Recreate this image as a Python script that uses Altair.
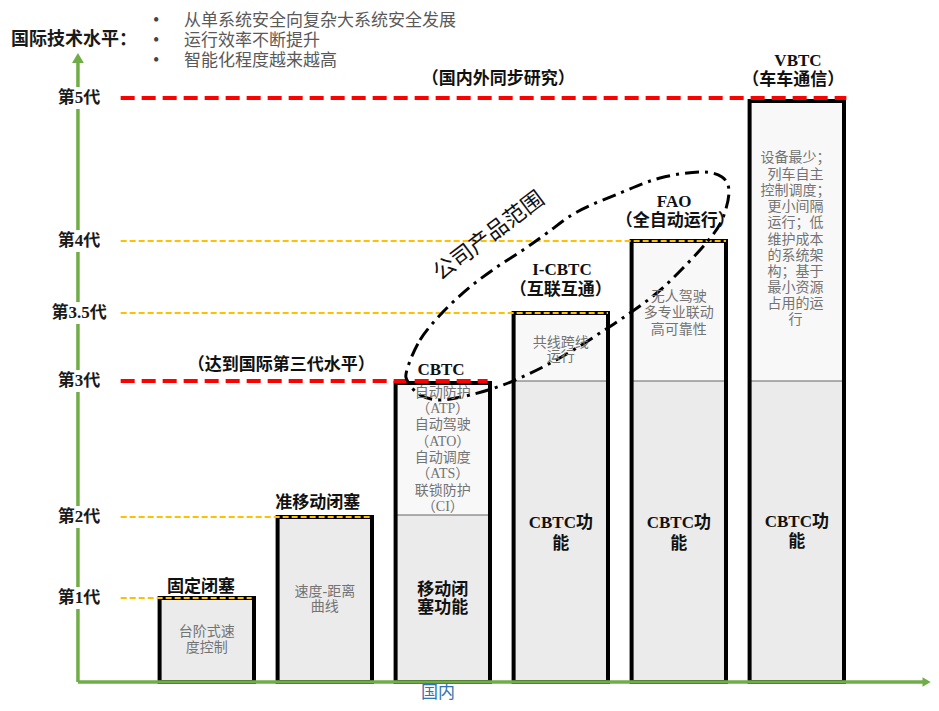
import altair as alt
import pandas as pd

FONT = "Liberation Serif, Noto Sans CJK SC"
GREEN = "#70AD47"
RED = "#FF0000"
ORANGE = "#FFC000"

# ---------------- data ----------------
gen_labels = ["第1代", "第2代", "第3代", "第3.5代", "第4代", "第5代"]
gen_level = [0.84, 1.65, 3.01, 3.69, 4.41, 5.84]
gen_line_end = [1.38, 2.40, 3.38, 4.40, 5.40, 6.42]
gen_major = [False, False, True, False, False, True]

bar_names = ["固定闭塞", "准移动闭塞", "CBTC", "I-CBTC", "FAO", "VBTC"]
bar_pos = [1, 2, 3, 4, 5, 6]
bar_top = [0.84, 1.65, 2.99, 3.69, 4.41, 5.81]
bar_split = [0.84, 1.65, 1.67, 3.01, 3.01, 3.01]
BAR_HALF = 0.4

head_text = ["固定闭塞", "准移动闭塞", "CBTC", "I-CBTC", "FAO", "VBTC"]
head_x = [0.95, 1.94, 2.985, 4.01, 4.96, 6.01]
head_y = [0.95, 1.79, 3.12, 4.12, 4.80, 6.21]

note_text = ["（互联互通）", "（全自动运行）", "（车车通信）", "（国内外同步研究）", "（达到国际第三代水平）"]
note_x = [4.0, 4.97, 5.97, 3.47, 1.63]
note_y = [3.92, 4.61, 6.02, 6.03, 3.17]

desc_text = ["台阶式速", "度控制",
             "速度-距离", "曲线",
             "自动防护", "（ATP）", "自动驾驶", "（ATO）", "自动调度", "（ATS）", "联锁防护", "（CI）",
             "共线跨线", "运行",
             "无人驾驶", "多专业联动", "高可靠性",
             "设备最少；", "列车自主", "控制调度；", "更小间隔", "运行；低", "维护成本",
             "的系统架", "构；基于", "最小资源", "占用的运", "行"]
desc_x = [1, 1,
          2, 2,
          3, 3, 3, 3, 3, 3, 3, 3,
          4, 4,
          5, 5, 5,
          5.99, 5.99, 5.99, 5.99, 5.99, 5.99, 5.99, 5.99, 5.99, 5.99, 5.99]
desc_y = [0.50, 0.34,
          0.90, 0.75,
          2.89, 2.73, 2.57, 2.40, 2.24, 2.08, 1.91, 1.75,
          3.39, 3.25,
          3.85, 3.69, 3.52,
          5.24, 5.07, 4.91, 4.75, 4.59, 4.42, 4.26, 4.10, 3.94, 3.78, 3.62]

func_text = ["移动闭", "塞功能", "CBTC功", "能", "CBTC功", "能", "CBTC功", "能"]
func_x = [3, 3, 4, 4, 5, 5, 6, 6]
func_y = [0.92, 0.74, 1.59, 1.38, 1.59, 1.38, 1.60, 1.40]

intl_title = "国际技术水平："
intl_points = ["从单系统安全向复杂大系统安全发展", "运行效率不断提升", "智能化程度越来越高"]
intl_y = [6.61, 6.41, 6.21]

x_axis_label = "国内"
scope_label = "公司产品范围"

loop_x = [2.696, 2.807, 3.001, 3.231, 3.459, 3.680, 3.883, 4.137, 4.502, 4.841,
          5.180, 5.366, 5.425, 5.366, 5.239, 5.036, 4.824, 4.586, 4.332, 4.078,
          3.798, 3.510, 3.231, 2.976, 2.807, 2.705]
loop_y = [3.12, 3.42, 3.70, 3.95, 4.15, 4.32, 4.49, 4.70, 4.89, 5.04,
          5.10, 5.05, 4.90, 4.62, 4.40, 4.14, 3.90, 3.69, 3.49, 3.30,
          3.12, 2.97, 2.87, 2.82, 2.87, 3.00]

AXIS_X = -0.092
X_END = 7.08
Y_END = 6.2

# ---------------- scales ----------------
XS = alt.Scale(domain=[-0.1, 7.1373], nice=False, zero=False)
YS = alt.Scale(domain=[0, 6.3], nice=False, zero=False)


def X(f):
    return alt.X(f"{f}:Q", scale=XS, axis=None)


def Y(f):
    return alt.Y(f"{f}:Q", scale=YS, axis=None)


def text_layer(texts, xs, ys, size, color, weight="normal", align="center", angle=0):
    df = pd.DataFrame({"t": texts, "x": xs, "y": ys})
    kw = dict(font=FONT, fontSize=size, color=color, fontWeight=weight,
              align=align, baseline="middle")
    if angle:
        kw["angle"] = angle
    return alt.Chart(df).mark_text(**kw).encode(x=X("x"), y=Y("y"), text="t:N")


# ---------------- bars ----------------
bars = pd.DataFrame({
    "name": bar_names,
    "x1": [p - BAR_HALF for p in bar_pos],
    "x2": [p + BAR_HALF for p in bar_pos],
    "top": bar_top,
    "split": bar_split,
    "zero": [0] * len(bar_pos),
})
upper = bars[bars["top"] > bars["split"] + 0.01]

lower_fill = alt.Chart(bars).mark_rect(fill="#ebebeb").encode(
    x=X("x1"), x2=alt.X2("x2"), y=Y("zero"), y2=alt.Y2("split"))
upper_fill = alt.Chart(upper).mark_rect(fill="#f8f8f8").encode(
    x=X("x1"), x2=alt.X2("x2"), y=Y("split"), y2=alt.Y2("top"))
divider = alt.Chart(upper).mark_rule(color="#666666", strokeWidth=1).encode(
    x=X("x1"), x2=alt.X2("x2"), y=Y("split"))
outline = alt.Chart(bars).mark_rect(fill="transparent", stroke="black", strokeWidth=4).encode(
    x=X("x1"), x2=alt.X2("x2"), y=Y("zero"), y2=alt.Y2("top"))

# ---------------- level lines ----------------
gen = pd.DataFrame({
    "label": gen_labels,
    "y": gen_level,
    "x1": [0.27] * len(gen_labels),
    "x2": gen_line_end,
    "major": gen_major,
    "lx": [-0.083] * len(gen_labels),
    "bx1": [-0.15] * len(gen_labels),
    "bx2": [-0.035] * len(gen_labels),
    "by1": [v - 0.11 for v in gen_level],
    "by2": [v + 0.11 for v in gen_level],
})
minor_lines = alt.Chart(gen[~gen["major"]]).mark_rule(
    color=ORANGE, strokeWidth=1.8, strokeDash=[6, 3]).encode(
    x=X("x1"), x2=alt.X2("x2"), y=Y("y"))
major_lines = alt.Chart(gen[gen["major"]]).mark_rule(
    color=RED, strokeWidth=4, strokeDash=[14, 7]).encode(
    x=X("x1"), x2=alt.X2("x2"), y=Y("y"))

# ---------------- axes ----------------
vaxis = alt.Chart(pd.DataFrame({"x": [AXIS_X], "y1": [0], "y2": [Y_END]})).mark_rule(
    color=GREEN, strokeWidth=3.5).encode(x=X("x"), y=Y("y1"), y2=alt.Y2("y2"))
haxis = alt.Chart(pd.DataFrame({"x1": [AXIS_X], "x2": [X_END], "y": [0]})).mark_rule(
    color=GREEN, strokeWidth=3.5).encode(x=X("x1"), x2=alt.X2("x2"), y=Y("y"))
up_arrow = alt.Chart(pd.DataFrame({"x": [AXIS_X], "y": [6.24]})).mark_point(
    shape="triangle-up", filled=True, size=140, color=GREEN, opacity=1).encode(
    x=X("x"), y=Y("y"))
right_arrow = alt.Chart(pd.DataFrame({"x": [7.10], "y": [0]})).mark_point(
    shape="triangle-right", filled=True, size=90, color=GREEN, opacity=1).encode(
    x=X("x"), y=Y("y"))

label_bg = alt.Chart(gen).mark_rect(fill="white").encode(
    x=X("bx1"), x2=alt.X2("bx2"), y=Y("by1"), y2=alt.Y2("by2"))
gen_text = alt.Chart(gen).mark_text(
    font=FONT, fontSize=17, fontWeight="bold", color="#1a1a1a",
    align="center", baseline="middle").encode(x=X("lx"), y=Y("y"), text="label:N")

# ---------------- loop (company product scope) ----------------
loop = pd.DataFrame({"x": loop_x, "y": loop_y, "i": list(range(len(loop_x)))})
loop_line = alt.Chart(loop).mark_line(
    color="black", strokeWidth=3, strokeDash=[14, 6, 3, 6],
    interpolate="cardinal-closed").encode(x=X("x"), y=Y("y"), order="i:Q")

# ---------------- texts ----------------
texts = [
    text_layer(head_text, head_x, head_y, 17, "#111111", weight="bold"),
    text_layer(note_text, note_x, note_y, 17, "#111111", weight="bold"),
    text_layer(desc_text, desc_x, desc_y, 14, "#737373"),
    text_layer(func_text, func_x, func_y, 17, "#111111", weight="bold"),
    text_layer([intl_title], [-0.659], [6.42], 18, "#1a1a1a", weight="bold", align="left"),
    text_layer(["•"] * 3, [0.570] * 3, intl_y, 18, "#444444"),
    text_layer(intl_points, [0.807] * 3, intl_y, 17, "#595959", align="left"),
    text_layer([x_axis_label], [2.96], [-0.105], 17, "#2F75B5"),
    text_layer([scope_label], [3.39], [4.46], 22, "#111111", angle=323),
]

chart = alt.layer(
    lower_fill, upper_fill, divider, outline,
    minor_lines, major_lines,
    vaxis, haxis, up_arrow, right_arrow,
    label_bg, gen_text,
    loop_line,
    *texts,
).properties(
    width=854, height=630,
    padding={"left": 69, "top": 44, "right": 0, "bottom": 21},
    autosize=alt.AutoSizeParams(type="none"),
    background="white",
).configure_view(stroke="transparent")

chart.save("out.html", embed_options={"renderer": "svg", "actions": False})
